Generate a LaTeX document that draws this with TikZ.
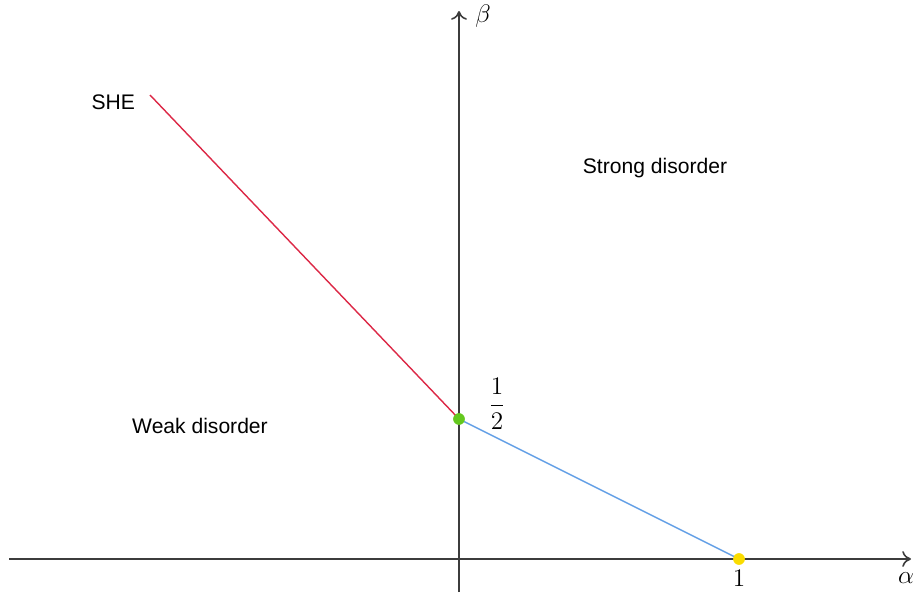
\documentclass[tikz,border=0pt]{standalone}
\usepackage{amsmath}
\usepackage{fontspec}
\setsansfont{Liberation Sans}
\usepackage{tikz}
\usetikzlibrary{arrows.meta, positioning}
\definecolor{axisgray}{RGB}{60,60,60}
\definecolor{shered}{RGB}{220,40,70}
\definecolor{weakblue}{RGB}{100,160,230}
\definecolor{dotgreen}{RGB}{100,200,30}
\definecolor{dotyellow}{RGB}{250,220,0}

\begin{document}
\begin{tikzpicture}[x=0.02cm,y=-0.02cm,
  axis/.style={axisgray,line width=0.9pt,-{To[length=5pt,width=9pt]}},
  region/.style={font=\sffamily\fontsize{12}{14}\selectfont},
  mlabel/.style={font=\fontsize{14.5}{17}\selectfont},
  dot/.style={circle,inner sep=0pt,minimum size=6.5pt}]
  \useasboundingbox (0,0) rectangle (917,595);

  % axes
  \coordinate (xstart) at (9,559);
  \coordinate (xend) at (911,559);
  \coordinate (ystart) at (459,592);
  \coordinate (yend) at (459,11);
  \draw[axis](xstart)--(xend);
  \draw[axis](ystart)--(yend);
  \node[mlabel](alpha) at (906,578){$\alpha$};
  \node[mlabel](beta) at (483,16){$\beta$};

  % critical lines
  \coordinate (she) at (150,95);
  \node[dot,fill=dotgreen](half) at (459,419){};
  \node[dot,fill=dotyellow](one) at (739,559){};
  \draw[shered,line width=0.8pt](she)--(half.center);
  \draw[weakblue,line width=0.8pt](half.center)--(one.center);
  \node[dot,fill=dotgreen] at (half){};
  \node[dot,fill=dotyellow] at (one){};

  % labels
  \node[region,left=5pt of she,yshift=-4pt](shelabel){SHE};
  \node[region](strong) at (655,168){Strong disorder};
  \node[region](weak) at (200,426){Weak disorder};
  \node[mlabel](halflabel) at (497,404){$\dfrac{1}{2}$};
  \node[mlabel](onelabel) at (739,578){$1$};
\end{tikzpicture}
\end{document}
